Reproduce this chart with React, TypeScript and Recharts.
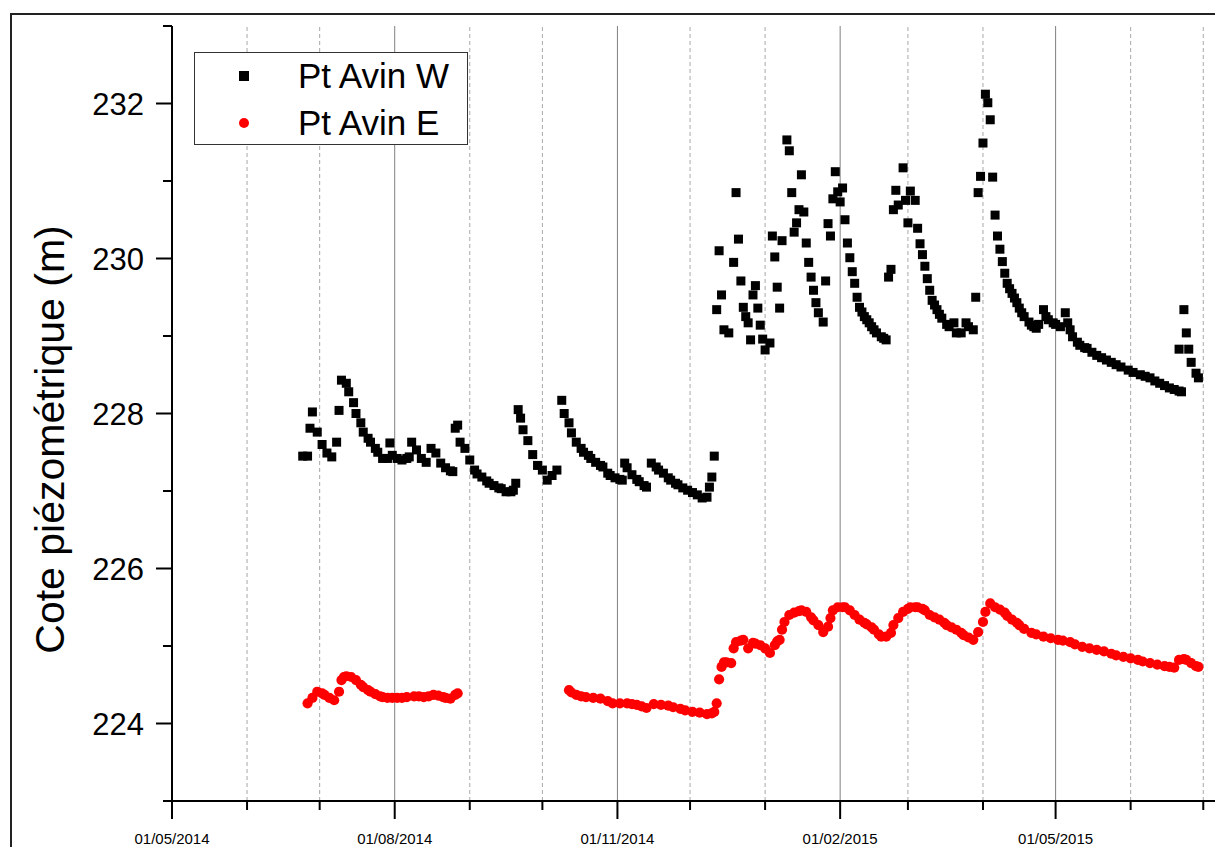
import React from "react";
import { ScatterChart, Scatter, XAxis, YAxis, ReferenceLine, Legend } from "recharts";

const DAY = 86400000;
const T0 = Date.UTC(2014, 4, 1); // jour 0 = 01/05/2014
const END_DAY = 442;

// [jour depuis le 01/05/2014, cote (m)]
const avinW: [number, number][] = [
  [54, 227.45], [56, 227.45], [57, 227.81], [58, 228.02], [60, 227.76], [62, 227.6], [64, 227.49], [66, 227.44],
  [68, 227.63], [69, 228.04], [70, 228.43], [72, 228.39], [73, 228.28], [75, 228.14], [76, 228.0], [78, 227.88],
  [79, 227.76], [81, 227.68], [82, 227.63], [84, 227.55], [85, 227.5], [87, 227.42], [89, 227.42], [90, 227.62],
  [91, 227.46], [93, 227.42], [95, 227.4], [97, 227.42], [98, 227.44], [99, 227.63], [101, 227.53], [103, 227.42],
  [105, 227.37], [107, 227.55], [109, 227.49], [111, 227.36], [113, 227.3], [115, 227.26], [116, 227.25],
  [117, 227.81], [118, 227.85], [119, 227.63], [121, 227.55], [123, 227.4], [125, 227.27], [126, 227.22],
  [128, 227.18], [130, 227.13], [131, 227.1], [133, 227.07], [135, 227.04], [136, 227.03], [138, 226.99],
  [140, 226.99], [141, 227.01], [142, 227.1],
  [143, 228.05], [144, 227.94], [145, 227.79], [147, 227.65], [149, 227.47], [151, 227.33], [153, 227.27],
  [155, 227.14], [157, 227.2], [159, 227.27],
  [161, 228.17], [162, 228.0], [164, 227.88], [165, 227.75], [167, 227.63], [169, 227.55], [170, 227.5],
  [172, 227.46], [173, 227.42], [175, 227.37], [177, 227.33], [178, 227.31], [180, 227.23], [181, 227.2],
  [183, 227.17], [185, 227.15], [186, 227.14], [187, 227.36], [188, 227.3], [190, 227.21], [192, 227.15],
  [193, 227.12], [195, 227.07], [196, 227.05], [198, 227.36], [200, 227.31], [201, 227.27], [203, 227.23],
  [205, 227.17], [206, 227.14], [208, 227.1], [209, 227.08], [211, 227.04], [213, 227.01], [215, 226.98],
  [217, 226.95], [219, 226.91], [221, 226.92], [222, 227.05], [223, 227.18], [224, 227.45],
  [225, 229.34], [226, 230.1], [227, 229.53], [228, 229.08], [230, 229.04], [232, 229.95], [233, 230.85],
  [234, 230.25], [235, 229.71], [236, 229.37], [237, 229.25], [238, 229.17], [239, 228.95], [240, 229.53],
  [241, 229.65], [242, 229.36], [243, 229.14], [244, 228.96], [245, 228.82], [247, 228.91], [248, 230.29],
  [249, 230.02], [250, 229.63], [251, 229.36], [252, 230.23], [254, 231.53], [255, 231.39], [256, 230.85],
  [257, 230.34], [258, 230.46], [259, 230.63], [260, 231.08], [261, 230.6], [262, 230.2], [263, 229.95],
  [264, 229.76], [265, 229.59], [266, 229.43], [267, 229.3], [269, 229.18], [270, 229.71], [271, 230.45],
  [272, 230.29], [273, 230.77], [274, 231.12], [275, 230.86], [276, 230.73], [277, 230.91], [278, 230.5],
  [279, 230.2], [280, 230.01], [281, 229.83], [282, 229.68], [283, 229.5], [284, 229.37], [285, 229.31],
  [286, 229.25], [287, 229.21], [288, 229.17], [289, 229.12], [290, 229.08], [291, 229.04], [293, 228.99],
  [294, 228.97], [295, 228.95], [296, 229.76], [297, 229.86], [298, 230.63], [299, 230.88], [300, 230.69],
  [302, 231.17], [303, 230.75], [304, 230.46], [305, 230.87], [307, 230.75], [308, 230.39], [309, 230.19],
  [310, 230.05], [311, 229.9], [312, 229.74], [313, 229.59], [314, 229.46], [315, 229.4], [316, 229.34],
  [317, 229.28], [318, 229.23], [320, 229.15], [321, 229.12], [323, 229.17], [324, 229.04], [326, 229.04],
  [328, 229.17], [329, 229.12], [331, 229.08], [332, 229.5], [333, 230.85], [334, 231.06], [335, 231.49],
  [336, 232.12], [337, 232.01], [338, 231.79], [339, 231.05], [340, 230.56], [341, 230.29], [342, 230.12],
  [343, 229.96], [344, 229.81], [345, 229.68], [346, 229.61], [347, 229.55], [348, 229.49], [349, 229.43],
  [350, 229.36], [351, 229.3], [352, 229.25], [354, 229.18], [355, 229.14], [356, 229.12], [357, 229.1],
  [358, 229.15], [360, 229.34], [361, 229.25], [362, 229.21], [364, 229.17], [365, 229.15], [367, 229.12],
  [369, 229.3], [370, 229.17], [371, 229.08], [372, 228.99], [374, 228.92], [375, 228.88], [377, 228.85],
  [378, 228.84], [380, 228.79], [382, 228.75], [384, 228.72], [386, 228.69], [388, 228.66], [390, 228.63],
  [392, 228.6], [395, 228.56], [397, 228.53], [400, 228.5], [402, 228.48], [404, 228.46], [406, 228.42],
  [408, 228.39], [410, 228.36], [412, 228.33], [414, 228.31], [416, 228.29], [417, 228.28],
  [416, 228.83], [418, 229.34], [419, 229.04], [420, 228.83], [421, 228.66], [423, 228.52], [424, 228.46],
];

const avinE: [number, number][] = [
  [56, 224.26], [58, 224.33], [60, 224.41], [62, 224.39], [63, 224.37], [65, 224.33], [67, 224.3], [69, 224.41],
  [70, 224.56], [71, 224.6], [72, 224.61], [74, 224.6], [76, 224.56], [78, 224.5], [79, 224.47], [81, 224.43],
  [82, 224.41], [84, 224.38], [86, 224.35], [87, 224.34], [89, 224.33], [91, 224.33], [93, 224.33], [95, 224.33],
  [97, 224.34], [100, 224.35], [102, 224.35], [104, 224.34], [106, 224.35], [108, 224.37], [110, 224.36],
  [112, 224.34], [113, 224.33], [115, 224.32], [117, 224.37], [118, 224.39],
  [164, 224.43], [165, 224.4], [167, 224.37], [169, 224.35], [171, 224.34], [174, 224.33], [177, 224.32],
  [180, 224.29], [182, 224.26], [185, 224.26], [188, 224.26], [190, 224.25], [192, 224.24], [194, 224.22],
  [196, 224.2], [199, 224.25], [202, 224.24], [205, 224.23], [207, 224.21], [210, 224.19], [212, 224.17],
  [215, 224.15], [218, 224.14], [221, 224.12], [223, 224.13], [224, 224.15], [225, 224.26], [226, 224.57],
  [227, 224.73], [228, 224.79], [229, 224.79], [231, 224.78], [232, 224.97], [233, 225.05], [235, 225.07],
  [236, 225.08], [238, 224.97], [240, 225.04], [241, 225.03], [243, 225.01], [245, 224.97], [247, 224.91],
  [249, 225.01], [250, 225.06], [251, 225.08], [252, 225.21], [253, 225.31], [255, 225.4], [257, 225.43],
  [259, 225.45], [260, 225.46], [262, 225.44], [264, 225.37], [265, 225.33], [267, 225.27], [269, 225.18],
  [271, 225.25], [272, 225.36], [273, 225.46], [275, 225.5], [277, 225.5], [278, 225.5], [280, 225.46],
  [282, 225.4], [284, 225.34], [286, 225.3], [287, 225.28], [289, 225.24], [290, 225.21], [292, 225.15],
  [293, 225.12], [295, 225.12], [297, 225.17], [298, 225.27], [300, 225.36], [302, 225.44], [304, 225.48],
  [305, 225.5], [307, 225.5], [308, 225.5], [310, 225.48], [311, 225.46], [313, 225.4], [315, 225.37],
  [317, 225.34], [319, 225.3], [320, 225.27], [322, 225.24], [324, 225.21], [326, 225.17], [327, 225.14],
  [329, 225.11], [331, 225.08], [333, 225.18], [335, 225.31], [336, 225.44], [338, 225.55], [340, 225.5],
  [342, 225.47], [344, 225.43], [345, 225.39], [347, 225.34], [349, 225.3], [350, 225.27], [352, 225.22],
  [355, 225.17], [357, 225.15], [360, 225.12], [363, 225.1], [366, 225.08], [368, 225.07], [371, 225.05],
  [373, 225.02], [376, 224.99], [379, 224.97], [382, 224.95], [385, 224.93], [388, 224.9], [390, 224.88],
  [393, 224.86], [396, 224.84], [399, 224.82], [401, 224.8], [404, 224.78], [407, 224.76], [410, 224.74],
  [412, 224.73], [414, 224.72], [416, 224.82], [418, 224.83], [419, 224.82], [421, 224.78], [423, 224.74],
  [424, 224.73],
];

const monthTicks = [
  "2014-05-01", "2014-06-01", "2014-07-01", "2014-08-01", "2014-09-01", "2014-10-01", "2014-11-01",
  "2014-12-01", "2015-01-01", "2015-02-01", "2015-03-01", "2015-04-01", "2015-05-01", "2015-06-01", "2015-07-01",
];
const labelledTicks = ["2014-05-01", "2014-08-01", "2014-11-01", "2015-02-01", "2015-05-01"];
const yTicks = [223, 224, 225, 226, 227, 228, 229, 230, 231, 232, 233];
const yLabelled = [224, 226, 228, 230, 232];

const FONT = '"Liberation Sans", Arial, sans-serif';

const toRows = (pts: [number, number][]) => pts.map(([d, v]) => ({ t: T0 + d * DAY, v }));
const wData = toRows(avinW);
const eData = toRows(avinE);
const monthT = monthTicks.map((s) => Date.parse(s));
const majorT = labelledTicks.map((s) => Date.parse(s));

const fmtDate = (t: number) => {
  const d = new Date(t);
  const p = (n: number) => String(n).padStart(2, "0");
  return `${p(d.getUTCDate())}/${p(d.getUTCMonth() + 1)}/${d.getUTCFullYear()}`;
};

const XTick = (props: any) => {
  const { x, y, payload } = props;
  const major = majorT.includes(payload.value);
  return (
    <g>
      <line x1={x} y1={y} x2={x} y2={y + (major ? 18 : 9)} stroke="#000" strokeWidth={2} />
      {major && (
        <text x={x} y={y + 43} textAnchor="middle" fontSize={15} fontFamily={FONT} fill="#000">
          {fmtDate(payload.value)}
        </text>
      )}
    </g>
  );
};

const YTick = (props: any) => {
  const { x, y, payload } = props;
  const major = yLabelled.includes(payload.value);
  return (
    <g>
      <line x1={x - (major ? 16 : 9)} y1={y} x2={x} y2={y} stroke="#000" strokeWidth={2} />
      {major && (
        <text x={x - 28} y={y + 11} textAnchor="end" fontSize={31} fontFamily={FONT} fill="#000">
          {payload.value}
        </text>
      )}
    </g>
  );
};

const YLabel = (props: any) => {
  const vb = props.viewBox;
  const cx = vb.x + 50;
  const cy = vb.y + vb.height / 2 + 26;
  return (
    <text
      x={cx}
      y={cy}
      transform={`rotate(-90, ${cx}, ${cy})`}
      textAnchor="middle"
      dominantBaseline="central"
      fontSize={41}
      fontFamily={FONT}
      fill="#000"
    >
      Cote piézométrique (m)
    </text>
  );
};

const Square = (p: any) => <rect x={p.cx - 4.5} y={p.cy - 4.5} width={9} height={9} fill="#000" />;
const Dot = (p: any) => <circle cx={p.cx} cy={p.cy} r={5.1} fill="#ff0000" />;

const LegendBox = () => (
  <div
    style={{
      width: 274,
      height: 93,
      border: "1px solid #333",
      boxSizing: "border-box",
      background: "#fff",
      position: "relative",
      fontFamily: FONT,
      fontSize: 35,
      color: "#000",
    }}
  >
    {[
      { name: "Pt Avin W", top: 3, mark: <div style={{ width: 10, height: 10, background: "#000" }} /> },
      { name: "Pt Avin E", top: 50, mark: <div style={{ width: 10, height: 10, borderRadius: 5, background: "#ff0000" }} /> },
    ].map((r) => (
      <div
        key={r.name}
        style={{ position: "absolute", left: 0, top: r.top, height: 40, width: 272, display: "flex", alignItems: "center" }}
      >
        <div style={{ width: 98, display: "flex", justifyContent: "center" }}>{r.mark}</div>
        <div style={{ marginLeft: 5, lineHeight: "40px", whiteSpace: "nowrap" }}>{r.name}</div>
      </div>
    ))}
  </div>
);

export default function App() {
  return (
    <div style={{ position: "fixed", left: 0, top: 0, width: 1215, height: 847, overflow: "hidden", background: "#fff" }}>
      <div
        style={{
          position: "absolute",
          left: 10,
          top: 13,
          width: 1300,
          height: 900,
          border: "2px solid #222",
        }}
      />
      <div style={{ position: "absolute", left: 0, top: 0 }}>
        <ScatterChart width={1242} height={880} margin={{ top: 26, right: 0, bottom: 0, left: 0 }}>
          {monthT.map((t) =>
            majorT.includes(t) ? (
              <ReferenceLine key={t} x={t} stroke="#808080" strokeWidth={1} />
            ) : (
              <ReferenceLine key={t} x={t} stroke="#a8a8a8" strokeWidth={1} strokeDasharray="4 3" />
            )
          )}
          <XAxis
            type="number"
            dataKey="t"
            domain={[T0, T0 + END_DAY * DAY]}
            ticks={monthT}
            interval={0}
            tick={<XTick />}
            tickLine={false}
            tickSize={0}
            tickMargin={0}
            height={79}
            axisLine={{ stroke: "#000", strokeWidth: 2 }}
            allowDataOverflow
          />
          <YAxis
            type="number"
            dataKey="v"
            domain={[223, 233]}
            ticks={yTicks}
            interval={0}
            tick={<YTick />}
            tickLine={false}
            tickSize={0}
            tickMargin={0}
            width={172}
            axisLine={{ stroke: "#000", strokeWidth: 2 }}
            label={<YLabel />}
            allowDataOverflow
          />
          <Legend
            layout="vertical"
            align="center"
            verticalAlign="middle"
            content={<LegendBox />}
            wrapperStyle={{ left: 194, top: 52, width: 274, height: 93 }}
          />
          <Scatter name="Pt Avin W" data={wData} shape={<Square />} isAnimationActive={false} />
          <Scatter name="Pt Avin E" data={eData} shape={<Dot />} isAnimationActive={false} />
        </ScatterChart>
      </div>
    </div>
  );
}
